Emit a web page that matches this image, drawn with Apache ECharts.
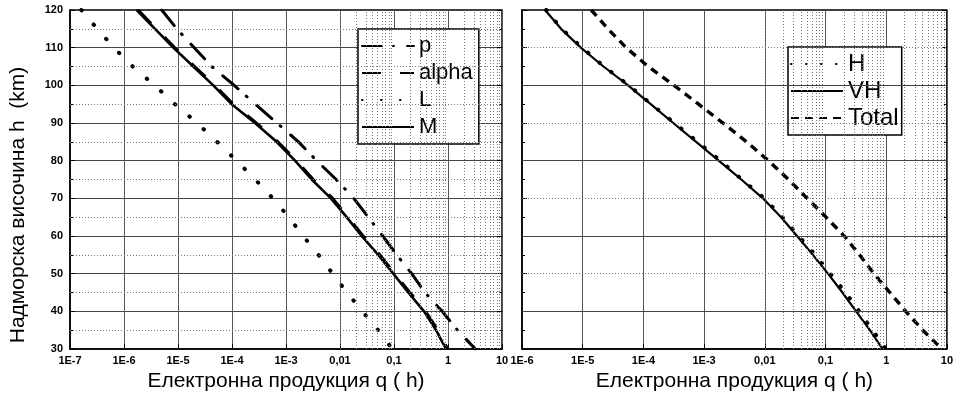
<!DOCTYPE html>
<html>
<head>
<meta charset="utf-8">
<script src="https://cdn.jsdelivr.net/npm/echarts@6/dist/echarts.min.js"></script>
<style>
  html, body { margin: 0; padding: 0; background: #fff; }
  #chart { width: 956px; height: 403px; }
</style>
</head>
<body>
<div id="chart"></div>
<script>
// Altitude levels (km) at which every production profile is sampled
const altitudes = [120, 115, 110, 105, 100, 95, 90, 85, 80, 75, 70, 65, 60, 55, 50, 45, 40, 35, 30];

// Left panel: electron production q(h) by particle type
const qP     = [5.0e-6, 9.5e-6, 2.0e-5, 4.2e-5, 1.1e-4, 2.7e-4, 6.8e-4, 1.7e-3, 3.7e-3, 8.5e-3, 0.018, 0.0335, 0.062, 0.112, 0.213, 0.375, 0.78, 1.5, 3.2];
const qAlpha = [1.8e-6, 3.9e-6, 8.6e-6, 2.0e-5, 4.7e-5, 1.04e-4, 2.8e-4, 7.0e-4, 1.55e-3, 3.15e-3, 7.2e-3, 0.014, 0.0265, 0.054, 0.102, 0.195, 0.38, 0.64, 0.98];
const qL     = [1.62e-7, 3.2e-7, 6.5e-7, 1.45e-6, 3.7e-6, 8.8e-6, 2.25e-5, 5.3e-5, 1.21e-4, 2.7e-4, 5.7e-4, 1.13e-3, 2.07e-3, 4.0e-3, 7.3e-3, 0.0135, 0.0259, 0.051, 0.093];
const qM     = [1.72e-6, 3.75e-6, 8.2e-6, 1.92e-5, 4.5e-5, 9.9e-5, 2.67e-4, 6.7e-4, 1.47e-3, 2.99e-3, 6.8e-3, 0.0133, 0.0252, 0.0512, 0.097, 0.184, 0.36, 0.60, 0.92];

// Right panel: H, VH and total production
const qH     = [2.5e-6, 4.5e-6, 9.8e-6, 2.24e-5, 5.75e-5, 1.35e-4, 3.24e-4, 7.8e-4, 1.86e-3, 4.2e-3, 9.8e-3, 0.0195, 0.036, 0.068, 0.12, 0.214, 0.36, 0.60, 0.98];
const qVH    = [2.4e-6, 4.4e-6, 9.3e-6, 2.2e-5, 5.6e-5, 1.32e-4, 3.1e-4, 7.4e-4, 1.74e-3, 4.1e-3, 9.3e-3, 0.0186, 0.034, 0.062, 0.11, 0.19, 0.32, 0.54, 0.87];
const qTotal = [1.38e-5, 2.6e-5, 5.2e-5, 1.2e-4, 3.2e-4, 8.1e-4, 2.04e-3, 5.0e-3, 0.0115, 0.0245, 0.05, 0.102, 0.204, 0.363, 0.63, 1.15, 2.1, 4.0, 8.3];

// Decade tick values and their printed labels
const tickValues = [1e-7, 1e-6, 1e-5, 1e-4, 1e-3, 0.01, 0.1, 1, 10];
const tickLabels = ['1E-7', '1E-6', '1E-5', '1E-4', '1E-3', '0,01', '0,1', '1', '10'];

const xTitle = 'Електронна продукция q ( h)';
const yTitle = 'Надморска височина h  (km)';

const FONT = "'Liberation Sans', Arial, sans-serif";

function pairs(q) { return altitudes.map((h, i) => [q[i], h]); }
function decadeLabel(v) {
  const e = Math.round(Math.log10(v));
  const i = tickValues.findIndex(t => Math.round(Math.log10(t)) === e);
  return i >= 0 ? tickLabels[i] : '';
}
// minor grid positions 2..9 × 10^d inside each decade
function minorDecades(fromExp, toExp) {
  const out = [];
  for (let d = fromExp; d < toExp; d++) {
    for (let k = 2; k <= 9; k++) out.push(+(k * Math.pow(10, d)).toPrecision(3));
  }
  return out;
}

const dotted = { type: [1, 2], color: '#777', width: 1 };
const solidGrid = { color: '#555', width: 1 };

function xAxisFor(gridIndex, minV) {
  return {
    type: 'log', logBase: 10, min: minV, max: 10, gridIndex,
    axisLine: { show: true, onZero: false, lineStyle: { color: '#000', width: 1.5 } },
    axisTick: { show: true, inside: true, length: 5, lineStyle: { color: '#000' } },
    axisLabel: { formatter: decadeLabel, color: '#000', fontWeight: 'bold', fontSize: 11, fontFamily: FONT, margin: 6 },
    splitLine: { show: true, lineStyle: solidGrid },
    name: xTitle, nameLocation: 'middle', nameGap: 17,
    nameTextStyle: { fontSize: 21, color: '#000', fontFamily: FONT, verticalAlign: 'top' }
  };
}

function gridLineSeries(xIdx, yIdx, lines, style) {
  return {
    type: 'line', xAxisIndex: xIdx, yAxisIndex: yIdx, data: [], silent: true, z: 1,
    markLine: {
      silent: true, symbol: 'none', animation: false,
      label: { show: false }, lineStyle: style,
      data: lines
    }
  };
}

function curve(name, xIdx, yIdx, q, lineStyle) {
  return {
    name, type: 'line', xAxisIndex: xIdx, yAxisIndex: yIdx,
    data: pairs(q), symbol: 'none', smooth: false, z: 3,
    lineStyle: Object.assign({ color: '#000' }, lineStyle)
  };
}

const chart = echarts.init(document.getElementById('chart'), null, { renderer: 'canvas' });

chart.setOption({
  animation: false,
  backgroundColor: '#fff',
  textStyle: { fontFamily: FONT },
  grid: [
    { left: 70, right: 454, top: 10, bottom: 54, show: true, borderColor: '#000', borderWidth: 1.5, backgroundColor: 'transparent' },
    { left: 522, right: 5, top: 10, bottom: 54, show: true, borderColor: '#000', borderWidth: 1.5, backgroundColor: 'transparent' }
  ],
  xAxis: [ xAxisFor(0, 1e-7), xAxisFor(1, 1e-6) ],
  yAxis: [
    {
      type: 'value', min: 30, max: 120, interval: 10, gridIndex: 0,
      axisLine: { show: true, lineStyle: { color: '#000', width: 1.5 } },
      axisTick: { show: true, inside: true, length: 5, lineStyle: { color: '#000' } },
      minorTick: { show: true, splitNumber: 2, length: 3, lineStyle: { color: '#000' } },
      axisLabel: { color: '#000', fontWeight: 'bold', fontSize: 11, fontFamily: FONT, margin: 7 },
      splitLine: { show: true, lineStyle: { color: '#444', width: 1 } }
    },
    {
      type: 'value', min: 30, max: 120, interval: 10, gridIndex: 0, position: 'right',
      axisLine: { show: false },
      axisTick: { show: true, inside: true, length: 5, lineStyle: { color: '#000' } },
      minorTick: { show: true, splitNumber: 2, length: 3, lineStyle: { color: '#000' } },
      axisLabel: { show: false }, splitLine: { show: false }
    },
    {
      type: 'value', min: 30, max: 120, interval: 10, gridIndex: 1,
      axisLine: { show: true, lineStyle: { color: '#000', width: 1.5 } },
      axisTick: { show: true, inside: true, length: 5, lineStyle: { color: '#000' } },
      minorTick: { show: true, splitNumber: 2, length: 3, lineStyle: { color: '#000' } },
      axisLabel: { show: false }, splitLine: { show: false }
    },
    {
      type: 'value', min: 30, max: 120, interval: 10, gridIndex: 1, position: 'right',
      axisLine: { show: false },
      axisTick: { show: true, inside: true, length: 5, lineStyle: { color: '#000' } },
      minorTick: { show: true, splitNumber: 2, length: 3, lineStyle: { color: '#000' } },
      axisLabel: { show: false }, splitLine: { show: false }
    }
  ],
  legend: [
    {
      data: ['p', 'alpha', 'L', 'M'], orient: 'vertical', left: 358, top: 29,
      itemWidth: 52, itemHeight: 14, itemGap: 5, padding: [6, 6, 6, 3],
      borderColor: '#000', borderWidth: 1.5, backgroundColor: '#fff', borderRadius: 0,
      itemStyle: { opacity: 0 },
      textStyle: { fontSize: 22, lineHeight: 22, color: '#000', fontFamily: FONT },
      selectedMode: false
    },
    {
      data: ['H', 'VH', 'Total'], orient: 'vertical', left: 788, top: 47,
      itemWidth: 52, itemHeight: 14, itemGap: 3, padding: [5, 3, 5, 2],
      borderColor: '#000', borderWidth: 1.5, backgroundColor: '#fff', borderRadius: 0,
      itemStyle: { opacity: 0 },
      textStyle: { fontSize: 24, lineHeight: 24, color: '#000', fontFamily: FONT },
      selectedMode: false
    }
  ],
  graphic: [
    {
      type: 'text', x: 18, y: 205, rotation: Math.PI / 2,
      style: { text: yTitle, fontSize: 21, fill: '#000', fontFamily: FONT, align: 'center', verticalAlign: 'middle' }
    }
  ],
  series: [
    // dotted minor grid: left panel
    gridLineSeries(0, 0, minorDecades(-7, 1).map(v => ({ xAxis: v }))
      .concat([35, 45, 55, 65, 75, 85, 95, 105, 115].map(h => ({ yAxis: h }))), dotted),
    // right panel: dotted minor grid and solid 20-km lines
    gridLineSeries(1, 2, minorDecades(-6, 1).map(v => ({ xAxis: v }))
      .concat([50, 70, 90, 110].map(h => ({ yAxis: h }))), dotted),
    gridLineSeries(1, 2, [40, 60, 80, 100].map(h => ({ yAxis: h })), { type: 'solid', color: '#444', width: 1 }),

    curve('p', 0, 0, qP, { width: 3, type: [20, 11, 1, 13], cap: 'round' }),
    curve('alpha', 0, 0, qAlpha, { width: 3.4, type: [19, 19] }),
    curve('L', 0, 0, qL, { width: 4, type: [0.5, 18.5], cap: 'round' }),
    curve('M', 0, 0, qM, { width: 2.6, type: 'solid' }),

    curve('H', 1, 2, qH, { width: 4, type: [0.5, 14.5], cap: 'round' }),
    curve('VH', 1, 2, qVH, { width: 2.2, type: 'solid' }),
    curve('Total', 1, 2, qTotal, { width: 3.4, type: [8, 6] })
  ]
});
</script>
</body>
</html>
